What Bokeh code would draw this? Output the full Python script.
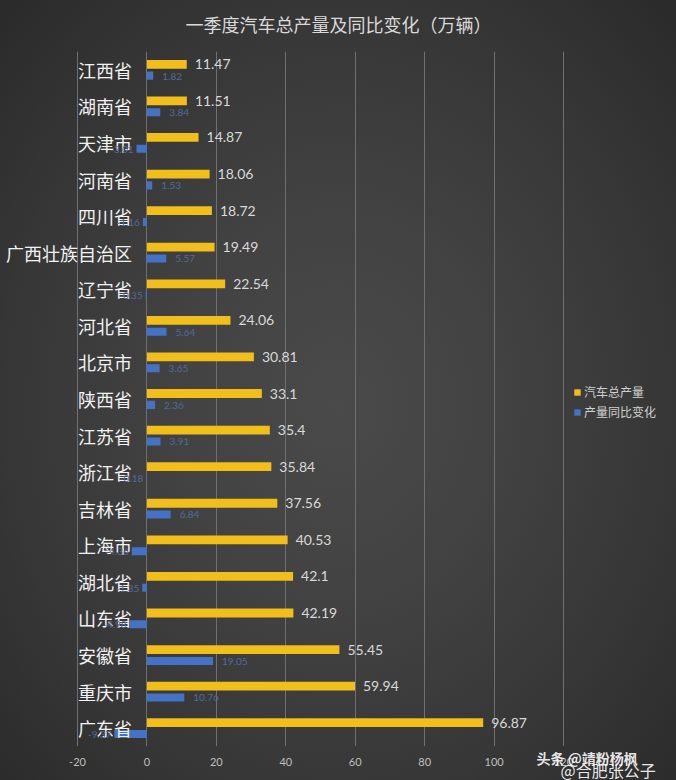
from bokeh.plotting import figure
from bokeh.layouts import column
from bokeh.models import (ColumnDataSource, FactorRange, Range1d, FixedTicker, LabelSet,
                          Legend, LegendItem, Label)
from bokeh.transform import dodge
from bokeh.core.properties import value
from bokeh.embed import file_html
from bokeh.resources import INLINE

# ---- data (top to bottom as in the reference) ----
provinces = ["江西省", "湖南省", "天津市", "河南省", "四川省", "广西壮族自治区", "辽宁省",
             "河北省", "北京市", "陕西省", "江苏省", "浙江省", "吉林省", "上海市",
             "湖北省", "山东省", "安徽省", "重庆市", "广东省"]
output_total = [11.47, 11.51, 14.87, 18.06, 18.72, 19.49, 22.54, 24.06, 30.81, 33.1,
                35.4, 35.84, 37.56, 40.53, 42.1, 42.19, 55.45, 59.94, 96.87]
yoy_change = [1.82, 3.84, -3.01, 1.53, -1.16, 5.57, -0.35, 5.64, 3.65, 2.36,
              3.91, -0.18, 6.84, -4.36, -1.35, -4.98, 19.05, 10.76, -9.37]
x_ticks = [-20, 0, 20, 40, 60, 80, 100, 120]
series_names = ["汽车总产量", "产量同比变化"]
title_text = "一季度汽车总产量及同比变化（万辆）"
watermark_1 = "头条 @靖粉杨枫"
watermark_2 = "@合肥张公子"

BG_GRADIENT = ("radial-gradient(ellipse at 50% 52%, #4a4a4a 0%, #424242 35%, "
               "#363636 70%, #2a2a2a 100%)")
YELLOW = "#F2BE1B"
BLUE = "#4472C4"
FONT = "Noto Sans CJK SC"
W = 676
X_RANGE = Range1d(-42.18, 152.55)


def strip(height, x_range):
    f = figure(width=W, height=height, output_backend="svg", toolbar_location=None,
               x_range=x_range, y_range=Range1d(0, 1),
               x_axis_location=None, y_axis_location=None, min_border=0,
               background_fill_color=None, border_fill_color=None, outline_line_color=None)
    f.grid.visible = False
    return f


# ---------------- title strip ----------------
top = strip(51, Range1d(0, 1))
top.add_layout(Label(x=W / 2, y=28, x_units="screen", y_units="screen", text=title_text,
                     text_align="center", text_baseline="middle", text_color="#d9d9d9",
                     text_font=FONT, text_font_size="18px"))

# ---------------- main chart ----------------
src = ColumnDataSource(dict(
    cat=provinces,
    total=output_total,
    total_txt=[f"{v:g}" for v in output_total],
    zero=[0] * len(provinces),
))
pos = [(c, v) for c, v in zip(provinces, yoy_change) if v >= 0]
neg = [(c, v) for c, v in zip(provinces, yoy_change) if v < 0]
src_all_yoy = ColumnDataSource(dict(cat=provinces, yoy=yoy_change))
src_pos = ColumnDataSource(dict(cat=[c for c, _ in pos], yoy=[v for _, v in pos],
                                txt=[f"{v:.2f}" for _, v in pos]))
src_neg = ColumnDataSource(dict(cat=[c for c, _ in neg], yoy=[v for _, v in neg],
                                txt=[f"{v:.2f}" for _, v in neg]))

p = figure(width=W, height=695, output_backend="svg", toolbar_location=None,
           y_range=FactorRange(factors=provinces[::-1]), x_range=X_RANGE,
           x_axis_location=None, y_axis_location=None, min_border=0,
           background_fill_color=None, border_fill_color=None, outline_line_color=None)

p.xgrid.ticker = FixedTicker(ticks=x_ticks)
p.xgrid.grid_line_color = "#707070"
p.xgrid.grid_line_width = 1
p.ygrid.grid_line_color = None

r_total = p.hbar(y=dodge("cat", 0.15, range=p.y_range), left="zero", right="total",
                 height=0.24, source=src, fill_color=YELLOW, line_color=None)
r_yoy = p.hbar(y=dodge("cat", -0.16, range=p.y_range), left=0, right="yoy",
               height=0.22, source=src_all_yoy, fill_color=BLUE, line_color=None)

p.add_layout(LabelSet(x="total", y=dodge("cat", 0.15, range=p.y_range), text="total_txt",
                      source=src, x_offset=8, text_baseline="middle", text_align="left",
                      text_color="#d9d9d9", text_font=value("Lato"), text_font_size="14px"))
p.add_layout(LabelSet(x="yoy", y=dodge("cat", -0.17, range=p.y_range), text="txt",
                      source=src_pos, x_offset=9, text_baseline="middle", text_align="left",
                      text_color="#56699c", text_font=value("Lato"), text_font_size="10px"))
p.add_layout(LabelSet(x="yoy", y=dodge("cat", -0.17, range=p.y_range), text="txt",
                      source=src_neg, x_offset=-3, text_baseline="middle", text_align="right",
                      text_color="#56699c", text_font=value("Lato"), text_font_size="10px"))

# category labels (Excel-style, next to the zero axis)
p.text(x=0, y="cat", text="cat", source=src, x_offset=-15, text_align="right",
       text_baseline="middle", text_color="#f2f2f2", text_font=value(FONT),
       text_font_size="18px")

legend = Legend(items=[LegendItem(label=series_names[0], renderers=[r_total]),
                       LegendItem(label=series_names[1], renderers=[r_yoy])],
                location=(573, 326), background_fill_alpha=0, border_line_color=None,
                glyph_width=8, glyph_height=8, label_standoff=3, spacing=3,
                label_height=14, padding=5, margin=0,
                label_text_color="#d0d0d0", label_text_font=FONT,
                label_text_font_size="12px")
p.add_layout(legend)

# ---------------- x tick-label strip ----------------
bottom = strip(34, X_RANGE)
tick_src = ColumnDataSource(dict(x=x_ticks, y=[0.53] * len(x_ticks),
                                 t=[str(t) for t in x_ticks]))
bottom.text(x="x", y="y", text="t", source=tick_src, text_align="center",
            text_baseline="middle", text_color="#bfbfbf", text_font=value("Lato"),
            text_font_size="11px")
bottom.add_layout(Label(x=536, y=23, x_units="screen", y_units="screen", text=watermark_1,
                        text_color="#ffffff", text_font=FONT, text_font_size="14px",
                        text_font_style="bold", text_alpha=0.9, text_baseline="middle"))
bottom.add_layout(Label(x=560, y=11, x_units="screen", y_units="screen", text=watermark_2,
                        text_color="#ffffff", text_font=FONT, text_font_size="16px",
                        text_alpha=0.9, text_baseline="middle"))

page = column(top, p, bottom, spacing=0)
page.styles = {"background": BG_GRADIENT}

open("out.html", "w").write(file_html(page, INLINE))
